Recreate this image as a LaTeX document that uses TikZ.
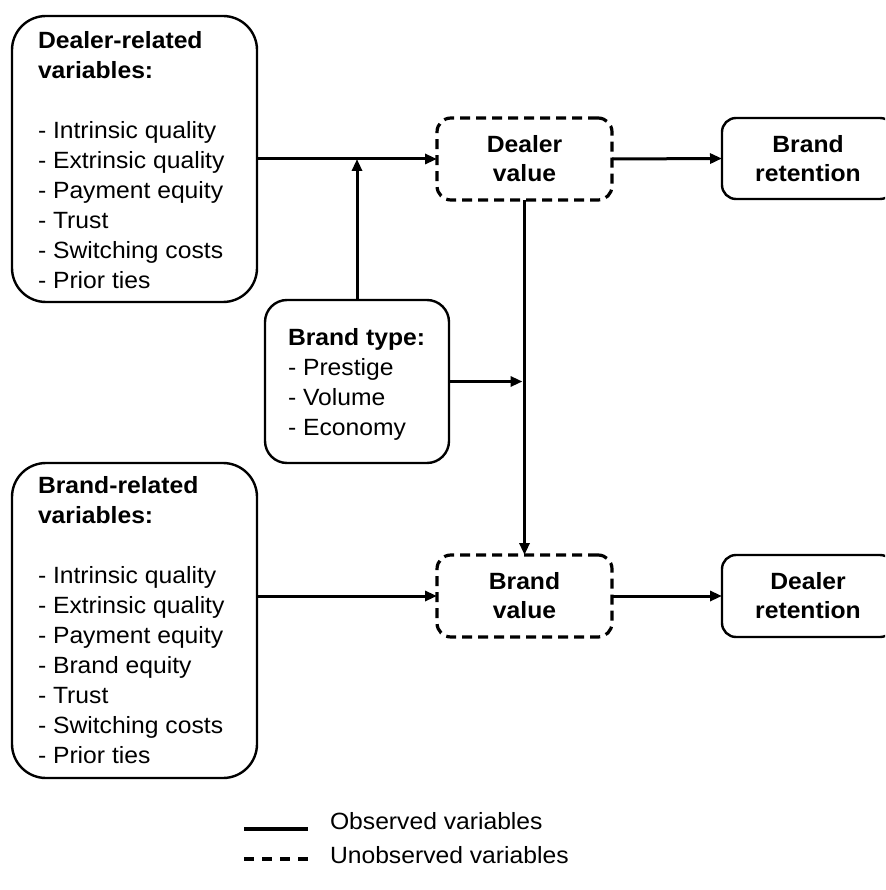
\documentclass[tikz,border=0pt]{standalone}
\usepackage{fontspec}
\setmainfont{Liberation Sans}[FakeStretch=1.05]
\usetikzlibrary{arrows.meta}
\begin{document}
\begin{tikzpicture}[x=1pt,y=-1pt,
  every node/.style={inner sep=0pt, outer sep=0pt},
  txt/.style={font=\fontsize{23.5}{30}\selectfont, align=left},
  ctxt/.style={font=\fontsize{23.5}{29}\selectfont\bfseries, align=center},
  bigbox/.style={draw, line width=2.4pt, rounded corners=34pt},
  smallbox/.style={draw, line width=2.4pt, rounded corners=14pt},
  dashbox/.style={draw, line width=3.2pt, rounded corners=14pt, dash pattern=on 10pt off 6pt},
  arr/.style={line width=3pt, -{Triangle[length=12pt,width=10pt]}},
]
\useasboundingbox (0,0) rectangle (885,890);
\clip (0,0) rectangle (885,890);
% frames
\node[bigbox, minimum width=245pt, minimum height=286pt] (dealervars) at (134.5,159) {};
\node[dashbox, minimum width=175pt, minimum height=82pt, ctxt] (dealerval) at (524.5,159) {Dealer\\value};
\node[smallbox, minimum width=172pt, minimum height=81pt, ctxt] (brandret) at (808,158.5) {Brand\\retention};
\node[bigbox, rounded corners=22pt, minimum width=184pt, minimum height=163pt] (brandtype) at (357,381.5) {};
\node[bigbox, minimum width=245pt, minimum height=315pt] (brandvars) at (134.5,620.5) {};
\node[dashbox, minimum width=175pt, minimum height=82pt, ctxt] (brandval) at (524.5,596) {Brand\\value};
\node[smallbox, minimum width=172pt, minimum height=82pt, ctxt] (dealerret) at (808,596) {Dealer\\retention};
% texts
\node[txt, anchor=north west] (dealervarstext) at (38,31.2) {\textbf{Dealer-related}\\\textbf{variables:}\\[30pt]- Intrinsic quality\\- Extrinsic quality\\- Payment equity\\- Trust\\- Switching costs\\- Prior ties};
\node[txt, anchor=north west] (brandtypetext) at (288,328.2) {\textbf{Brand type:}\\- Prestige\\- Volume\\- Economy};
\node[txt, anchor=north west] (brandvarstext) at (38,476.2) {\textbf{Brand-related}\\\textbf{variables:}\\[30pt]- Intrinsic quality\\- Extrinsic quality\\- Payment equity\\- Brand equity\\- Trust\\- Switching costs\\- Prior ties};
% connectors
\draw[arr] (dealervars.east) -- (dealerval.west);
\draw[arr] (brandtype.north) -- (brandtype.north |- dealervars.east);
\draw[arr] (dealerval.east) -- (brandret.west);
\draw[arr] (dealerval.south) -- (brandval.north);
\draw[arr, shorten >=2pt] (brandtype.east) -- (brandtype.east -| dealerval.south);
\draw[arr] (brandvars.east |- brandval.west) -- (brandval.west);
\draw[arr] (brandval.east) -- (dealerret.west);
% legend
\coordinate (obsA) at (244,829);
\coordinate (obsB) at (308,829);
\coordinate (unoA) at (244,859);
\coordinate (unoB) at (308,859);
\draw[line width=3.8pt] (obsA) -- (obsB);
\draw[line width=3.8pt, dash pattern=on 10pt off 8pt] (unoA) -- (unoB);
\node[txt, anchor=base west] (obstext) at (330,829) {Observed variables};
\node[txt, anchor=base west] (unotext) at (330,863) {Unobserved variables};
\end{tikzpicture}
\end{document}
